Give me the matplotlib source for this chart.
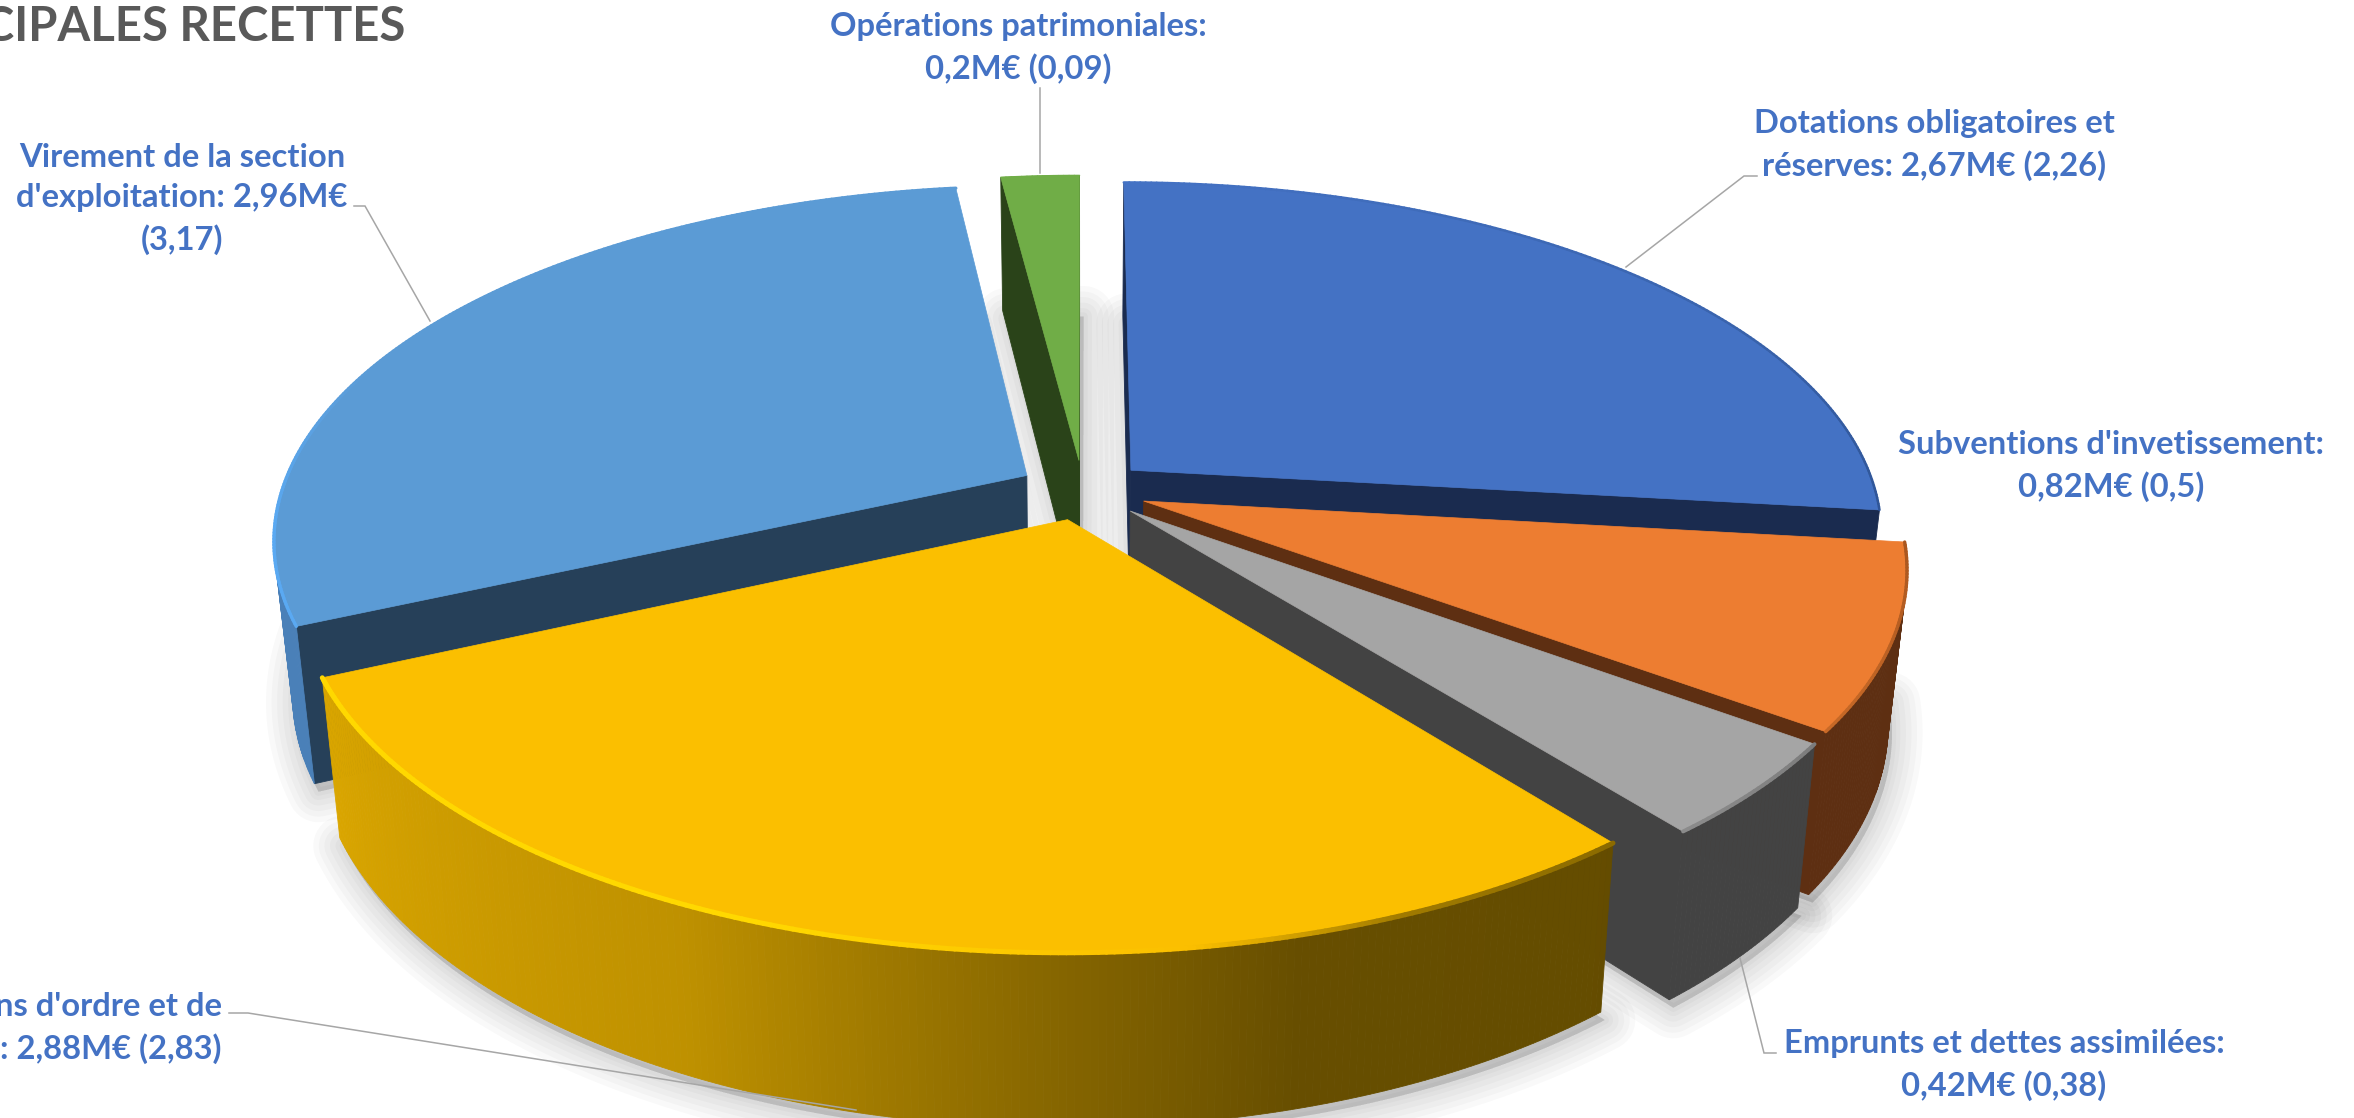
#!/usr/bin/python
import numpy as np
import matplotlib
matplotlib.use("Agg")
import matplotlib.pyplot as plt
from matplotlib.collections import LineCollection

W, H = 2354, 1118

names = ["Dotations", "Subventions", "Emprunts", "Ordre", "Virement", "Patrimoniales"]
values = [2.67, 0.82, 0.42, 2.88, 2.96, 0.2]
top_colors = ["#4472C4", "#ED7D31", "#A5A5A5", "#FBBF00", "#5B9BD5", "#70AD47"]
side_colors = ["#1A2B4F", "#5E2F12", "#434343", "#644B00", "#264059", "#2A4319"]
outer_colors = ["#2F5597", "#5E2F12", "#434343", "#644B00", "#4A80B8", "#2A4319"]
draw_order = [5, 0, 4, 1, 2, 3]

# the labels as they stand on the slide, some are cut by the picture edge
label_texts = ["Opérations patrimoniales:\n0,2M€ (0,09)",
               "Dotations obligatoires et\nréserves: 2,67M€ (2,26)",
               "Virement de la section\nd'exploitation: 2,96M€\n(3,17)",
               "Subventions d'invetissement:\n0,82M€ (0,5)",
               "Emprunts et dettes assimilées:\n0,42M€ (0,38)"]
label_x = [1018, 1934, 182, 2111, 2004]
label_y = [48, 145, 199, 466, 1065]
cut_texts = ["ns d'ordre et de", ": 2,88M€ (2,83)"]
cut_y = [1006, 1049]
title = "PRINCIPALES RECETTES"

leaders = [([1040, 1040], [88, 173]),
           ([354, 365, 430], [206, 206, 321]),
           ([1757, 1744, 1626], [176, 176, 267]),
           ([229, 248, 856], [1013, 1013, 1110]),
           ([1776, 1764, 1740], [1053, 1053, 958])]

# camera
cx, cy = 1083, 490
rx, ry = 745, 345
persp = 0.1765
explode = 0.087
depth = 150
shrink = 0.977

# wall lighting on the yellow slice
yellow_angle = [141, 165, 180, 205, 246]
yellow_light = [0.40, 0.41, 0.53, 0.76, 0.87]
yellow_rgb = np.array([251, 191, 0]) / 255

# bevel colour along the outer edge, by angle, for each slice
rim_angle = [[0, 60, 97], [96, 127], [126, 142],
             [141, 158, 172, 200, 246], [245, 262, 290, 353], [352, 360]]
rim_stops = [["#4472C4", "#3A64AE", "#2F5597"], ["#A9561F", "#C96A27"], ["#7C7C7C", "#8C8C8C"],
             ["#8A6A00", "#A07A00", "#FBBF00", "#FFD800", "#FFD800"],
             ["#5AA9F2", "#5AA9F2", "#5B9BD5", "#5B9BD5"], ["#70AD47", "#70AD47"]]
rim_width = [1.8, 2.4, 2.8, 3.6, 2.4, 1.0]


def project(x, y, low=False):
    s = 1 / (1 - persp * y)
    px = rx * x * s
    py = ry * y * s
    if low:
        return cx + px * shrink, cy + py * shrink + depth * s
    return cx + px, cy + py


def rim_color(i, ang):
    rgb = np.array([matplotlib.colors.to_rgb(c) for c in rim_stops[i]])
    return [np.interp(ang, rim_angle[i], rgb[:, c]) for c in range(3)]


def area(xs, ys):
    return 0.5 * np.sum(xs * np.roll(ys, -1) - np.roll(xs, -1) * ys)


fig = plt.figure(figsize=(W / 100, H / 100), dpi=100)
ax = fig.add_axes([0, 0, 1, 1])
ax.set_xlim(0, W)
ax.set_ylim(H, 0)
ax.axis("off")

edges = np.concatenate([[0], np.cumsum(values)]) * 360 / np.sum(values)

outlines = []
for i in range(len(values)):
    start, end = edges[i], edges[i + 1]
    mid = np.radians((start + end) / 2)
    ox, oy = explode * np.sin(mid), -explode * np.cos(mid)
    theta = np.radians(np.linspace(start, end, int(end - start) * 2 + 2))
    x = np.concatenate([[ox], ox + np.sin(theta), [ox]])
    y = np.concatenate([[oy], oy - np.cos(theta), [oy]])
    outlines.append((x, y, theta))

# soft shadow under the slices
for lw in [44, 36, 28, 20, 12, 6]:
    for x, y, theta in outlines:
        bx, by = project(x, y, low=True)
        ax.fill(bx + 4, by + 8, facecolor="#000000", edgecolor="#000000", alpha=0.022,
                lw=lw, joinstyle="round", zorder=1)

z = 2
for i in draw_order:
    x, y, theta = outlines[i]
    tx, ty = project(x, y)
    bx, by = project(x, y, low=True)
    for k in range(len(x) - 1):
        qx = np.array([tx[k], tx[k + 1], bx[k + 1], bx[k]])
        qy = np.array([ty[k], ty[k + 1], by[k + 1], by[k]])
        if area(qx, qy) >= 0:
            continue
        if k == 0 or k == len(x) - 2:
            col = side_colors[i]
        elif i == 3:
            ang = np.degrees(theta[k - 1])
            col = yellow_rgb * np.interp(ang, yellow_angle, yellow_light)
        else:
            col = outer_colors[i]
        ax.fill(qx, qy, facecolor=col, edgecolor=col, lw=0.6, zorder=z)
    z += 1
    ax.fill(tx, ty, facecolor=top_colors[i], edgecolor=top_colors[i], lw=0.5, zorder=z)
    z += 1

    # bevel along the outer edge
    ex, ey = tx[1:-1], ty[1:-1]
    segs = [[(ex[k], ey[k]), (ex[k + 1], ey[k + 1])] for k in range(len(ex) - 1)]
    cols = [rim_color(i, a) for a in np.degrees(theta[:-1])]
    ax.add_collection(LineCollection(segs, colors=cols, linewidths=rim_width[i], zorder=z,
                                     capstyle="round"))
    z += 1

for xs, ys in leaders:
    ax.plot(xs, ys, color="#A6A6A6", lw=1.1, zorder=z, solid_joinstyle="miter")

font = {"family": "Lato", "weight": "bold", "color": "#4472C4", "fontsize": 23.6, "zorder": z + 1}
for s, lx, ly in zip(label_texts, label_x, label_y):
    ax.text(lx, ly, s, ha="center", va="center", linespacing=1.46, **font)
for s, ly in zip(cut_texts, cut_y):
    ax.text(222, ly, s, ha="right", va="center", **font)

ax.text(405, 41, title, ha="right", va="baseline", family="Lato", weight="bold",
        color="#595959", fontsize=34, zorder=z + 1)

fig.savefig("out.png", dpi=100, facecolor="white")
